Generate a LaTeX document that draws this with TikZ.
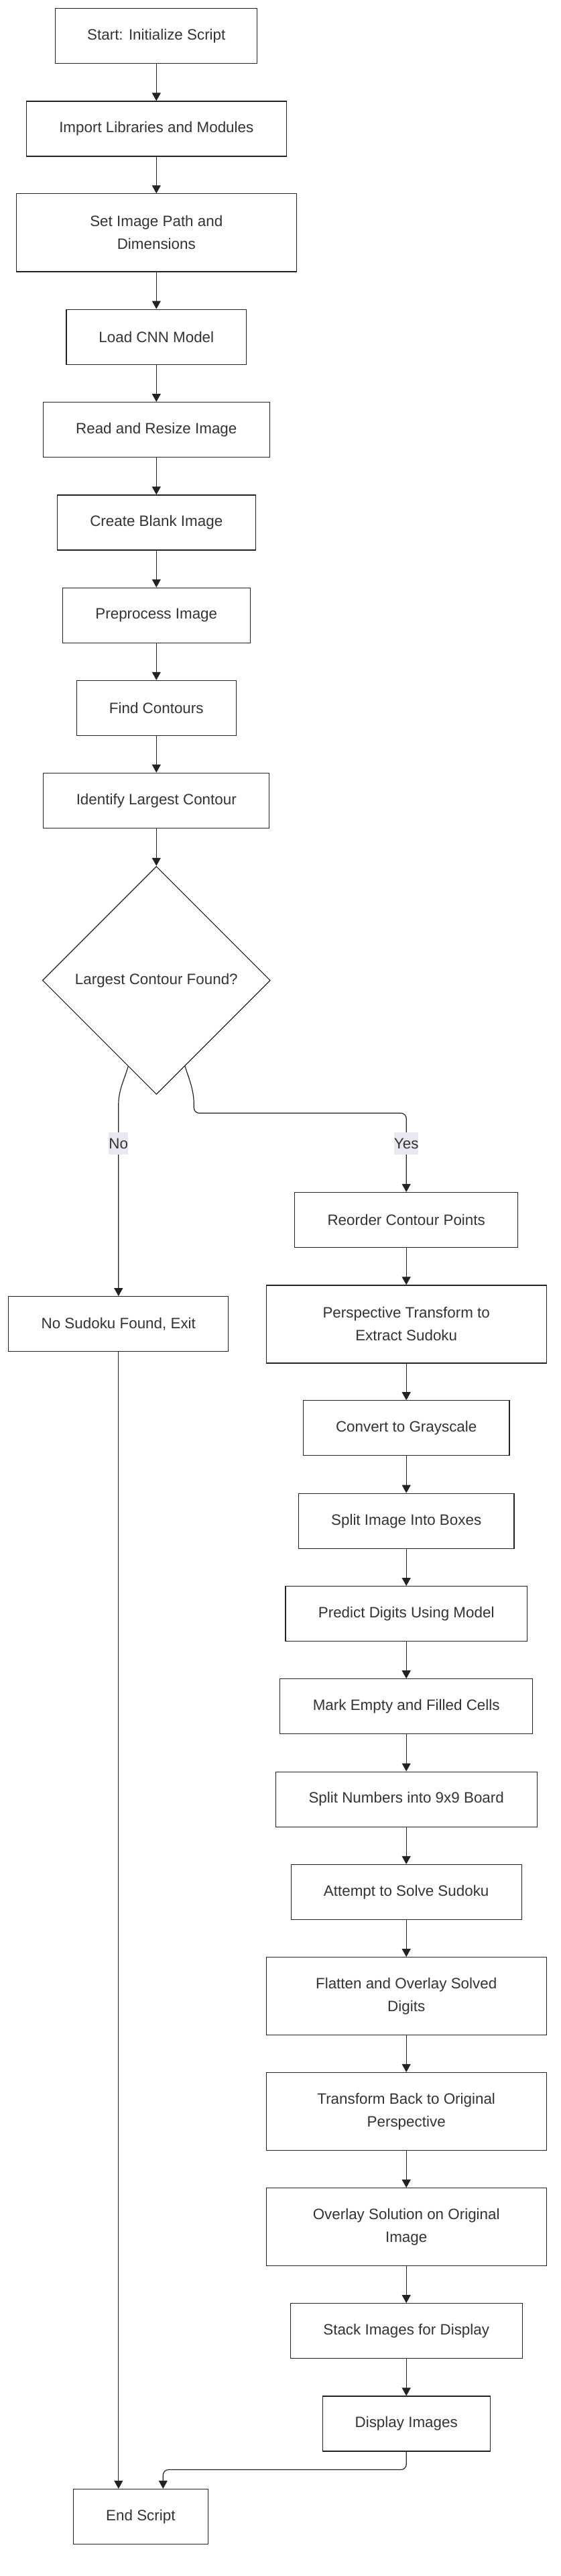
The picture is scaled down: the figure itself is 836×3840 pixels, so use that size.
\documentclass[tikz,border=0pt]{standalone}
\usepackage{fontspec}
\setmainfont{Liberation Sans}
\usetikzlibrary{shapes.geometric,arrows.meta,calc}
\definecolor{txt}{RGB}{51,51,51}
\definecolor{linec}{RGB}{34,34,34}
\definecolor{lblbg}{RGB}{232,232,241}
\newcommand\fsz{\fontsize{22.4}{34}\selectfont}
\tikzset{
  box/.style={draw=linec, line width=1.2pt, fill=white, text=txt, font=\fsz, align=center, inner sep=0pt, minimum height=82pt},
  twoline/.style={box, minimum height=116pt},
  arr/.style={draw=linec, line width=1.2pt, -{Triangle[length=12pt,width=13pt]}},
  lbl/.style={fill=lblbg, text=txt, font=\fsz, inner xsep=0pt, inner ysep=0pt, minimum height=33pt},
}
\begin{document}
\begin{tikzpicture}[x=1pt,y=-1pt]
\useasboundingbox[fill=white] (0,0) rectangle (836,3840);
% left column
\node[box, minimum width=301pt] (start) at (233.3,53.5) {Start: Initialize Script};
\node[box, minimum width=388pt] (import) at (233.3,192) {Import Libraries and Modules};
\node[twoline, minimum width=418pt] (setpath) at (233.3,346.9) {Set Image Path and\\Dimensions};
\node[box, minimum width=268.7pt] (loadcnn) at (233.3,502.2) {Load CNN Model};
\node[box, minimum width=338pt] (readresize) at (233.3,640.6) {Read and Resize Image};
\node[box, minimum width=296pt] (createblank) at (233.3,779) {Create Blank Image};
\node[box, minimum width=280pt] (preprocess) at (233.3,917.2) {Preprocess Image};
\node[box, minimum width=237.8pt] (findcontours) at (233.3,1055.4) {Find Contours};
\node[box, minimum width=337pt] (identify) at (233.3,1193.3) {Identify Largest Contour};
\node[diamond, aspect=1, draw=linec, line width=1.2pt, fill=white, text=txt, font=\fsz, inner sep=0pt, minimum width=340pt, minimum height=340pt] (dec) at (233.3,1461.4) {Largest Contour Found?};
\node[box, minimum width=328pt] (nosudoku) at (176.8,1973.7) {No Sudoku Found, Exit};
\node[box, minimum width=201pt] (end) at (209.9,3751.4) {End Script};
% right column
\node[box, minimum width=333.3pt] (reorder) at (606.2,1818.5) {Reorder Contour Points};
\node[twoline, minimum width=418.2pt] (perspective) at (606.2,1973.9) {Perspective Transform to\\Extract Sudoku};
\node[box, minimum width=307.7pt] (convert) at (606.2,2128.8) {Convert to Grayscale};
\node[box, minimum width=321.7pt] (splitimg) at (606.2,2267.2) {Split Image Into Boxes};
\node[box, minimum width=360.5pt] (predict) at (606.2,2405.6) {Predict Digits Using Model};
\node[box, minimum width=377.1pt] (mark) at (606.2,2543.8) {Mark Empty and Filled Cells};
\node[box, minimum width=390pt] (splitnum) at (606.2,2682.1) {Split Numbers into 9x9 Board};
\node[box, minimum width=344pt] (attempt) at (606.2,2820.5) {Attempt to Solve Sudoku};
\node[twoline, minimum width=418.2pt] (flatten) at (606.2,2975.7) {Flatten and Overlay Solved\\Digits};
\node[twoline, minimum width=418.2pt] (transform) at (606.2,3147.5) {Transform Back to Original\\Perspective};
\node[twoline, minimum width=418.2pt] (overlay) at (606.2,3319.7) {Overlay Solution on Original\\Image};
\node[box, minimum width=346pt] (stack) at (606.2,3474.7) {Stack Images for Display};
\node[box, minimum width=250pt] (display) at (606.2,3613) {Display Images};
% straight connectors
\foreach \a/\b in {start/import, import/setpath, setpath/loadcnn, loadcnn/readresize,
  readresize/createblank, createblank/preprocess, preprocess/findcontours,
  findcontours/identify, identify/dec,
  reorder/perspective, perspective/convert, convert/splitimg, splitimg/predict,
  predict/mark, mark/splitnum, splitnum/attempt, attempt/flatten, flatten/transform,
  transform/overlay, overlay/stack, stack/display}
  \draw[arr] (\a.south) -- (\b.north);
% decision branches
\coordinate (nostart) at ($(dec.west)!0.753!(dec.south)$);
\coordinate (yesstart) at ($(dec.east)!0.75!(dec.south)$);
\draw[arr] (nostart) .. controls (186,1608) and (176.8,1625) .. (176.8,1646) -- (nosudoku.north);
\draw[arr] (yesstart) .. controls (282,1608) and (289.3,1625) .. (289.3,1646) [rounded corners=8pt] -- (289.3,1659.3) -- (606.2,1659.3) -- (reorder.north);
\node[lbl] (nolbl) at (176.8,1704.4) {No};
\node[lbl] (yeslbl) at (606.2,1704.4) {Yes};
% to end
\draw[arr] (nosudoku.south) -- (nosudoku.south |- end.north);
\coordinate (endin) at ($(end.north)+(33.4,0)$);
\draw[arr, rounded corners=8pt] (display.south) |- ($(endin)+(0,-28.3)$) -- (endin);
\end{tikzpicture}
\end{document}
